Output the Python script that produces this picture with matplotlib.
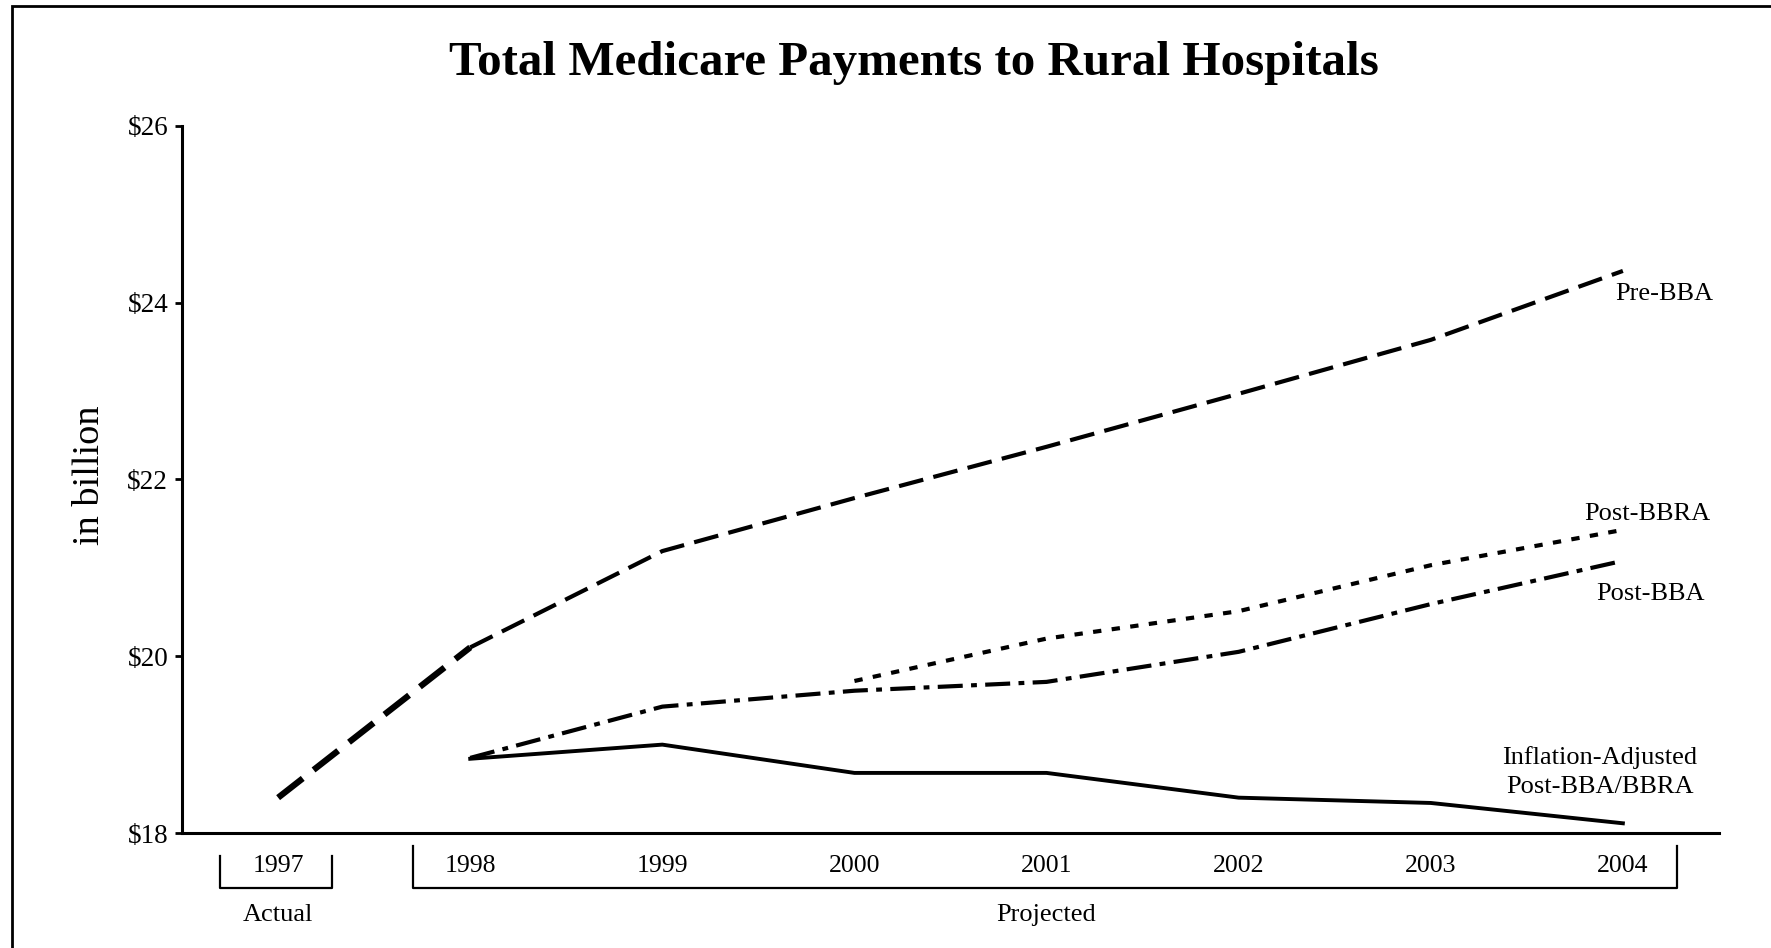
import numpy as np
import matplotlib.pyplot as plt
from matplotlib.patches import Rectangle
from matplotlib.transforms import Bbox, blended_transform_factory

plt.rcParams['font.family'] = ['Liberation Serif', 'DejaVu Serif']

# data (billions of dollars), 1997 actual, 1998-2004 projected
years = ['1997', '1998', '1999', '2000', '2001', '2002', '2003', '2004']
pre_bba = [18.40, 20.10, 21.19, 21.79, 22.37, 22.97, 23.58, 24.36]
post_bba = [np.nan, 18.85, 19.43, 19.61, 19.71, 20.05, 20.59, 21.08]
post_bbra = [np.nan, np.nan, np.nan, 19.72, 20.20, 20.51, 21.03, 21.43]
inflation_adj = [np.nan, 18.84, 19.00, 18.68, 18.68, 18.40, 18.34, 18.11]
y_ticks = [18, 20, 22, 24, 26]

x = np.arange(len(years))

fig = plt.figure(figsize=(17.71, 9.48), dpi=100)
ax = fig.add_axes([0.1028, 0.1213, 0.8678, 0.7458])

# outer frame of the slide (right/bottom edges fall off the picture)
fig.patches.append(Rectangle((12 / 1771, -0.05), 1.2, 1.05 - 6 / 948,
                             transform=fig.transFigure, fill=False,
                             edgecolor='black', linewidth=2))

# actual 1997-1998 segment drawn heavier
ax.plot(x[:2], pre_bba[:2], color='black', lw=4.5, dashes=(5, 2.2))
ax.plot(x[1:], pre_bba[1:], color='black', lw=3, dashes=(6, 2.5))
ax.plot(x, post_bba, color='black', lw=3, dashes=(6, 2, 1.4, 2))
ax.plot(x, post_bbra, color='black', lw=3, dashes=(2, 2.5))
ax.plot(x, inflation_adj, color='black', lw=2.8)

ax.set_xlim(-0.5, 7.5)
ax.set_ylim(18, 26)
ax.set_yticks(y_ticks)
ax.set_yticklabels([f'${v}' for v in y_ticks])
ax.set_xticks(x)
ax.set_xticklabels(years)
ax.tick_params(axis='y', length=5, width=2, labelsize=19.5, pad=5)
ax.tick_params(axis='x', length=0, labelsize=18.5, pad=16)

for side in ['top', 'right']:
    ax.spines[side].set_visible(False)
for side in ['left', 'bottom']:
    ax.spines[side].set_linewidth(2.2)

# y label, cut off at the top as in the original slide
ylab = fig.text(90 / 1771, 1 - 468 / 948, 'in billions', rotation=90,
                ha='center', va='center', fontsize=27.5)
ylab.set_clip_box(Bbox.from_extents(0, 0, 1771, 948 - 405))

fig.text(0.516, 1 - 63 / 948, 'Total Medicare Payments to Rural Hospitals',
         ha='center', va='center', fontsize=35.3, fontweight='bold')

# series labels
ax.text(6.96, 24.10, 'Pre-BBA', fontsize=19, va='center', ha='left')
ax.text(6.80, 21.61, 'Post-BBRA', fontsize=19, va='center', ha='left')
ax.text(6.86, 20.71, 'Post-BBA', fontsize=19, va='center', ha='left')
ax.text(6.88, 18.69, 'Inflation-Adjusted\nPost-BBA/BBRA', fontsize=19,
        va='center', ha='center', linespacing=1.45)

# brackets under the year labels
trans = blended_transform_factory(ax.transData, ax.transAxes)
ax.plot([-0.30, -0.30, 0.28, 0.28], [-0.0325, -0.0778, -0.0778, -0.0325],
        color='black', lw=1.6, transform=trans, clip_on=False)
ax.plot([0.70, 0.70, 7.28, 7.28], [-0.0184, -0.0778, -0.0778, -0.0184],
        color='black', lw=1.6, transform=trans, clip_on=False)
ax.text(0, -0.116, 'Actual', fontsize=19, ha='center', va='center', transform=trans)
ax.text(4, -0.116, 'Projected', fontsize=19, ha='center', va='center', transform=trans)

fig.savefig('out.png', dpi=100)
